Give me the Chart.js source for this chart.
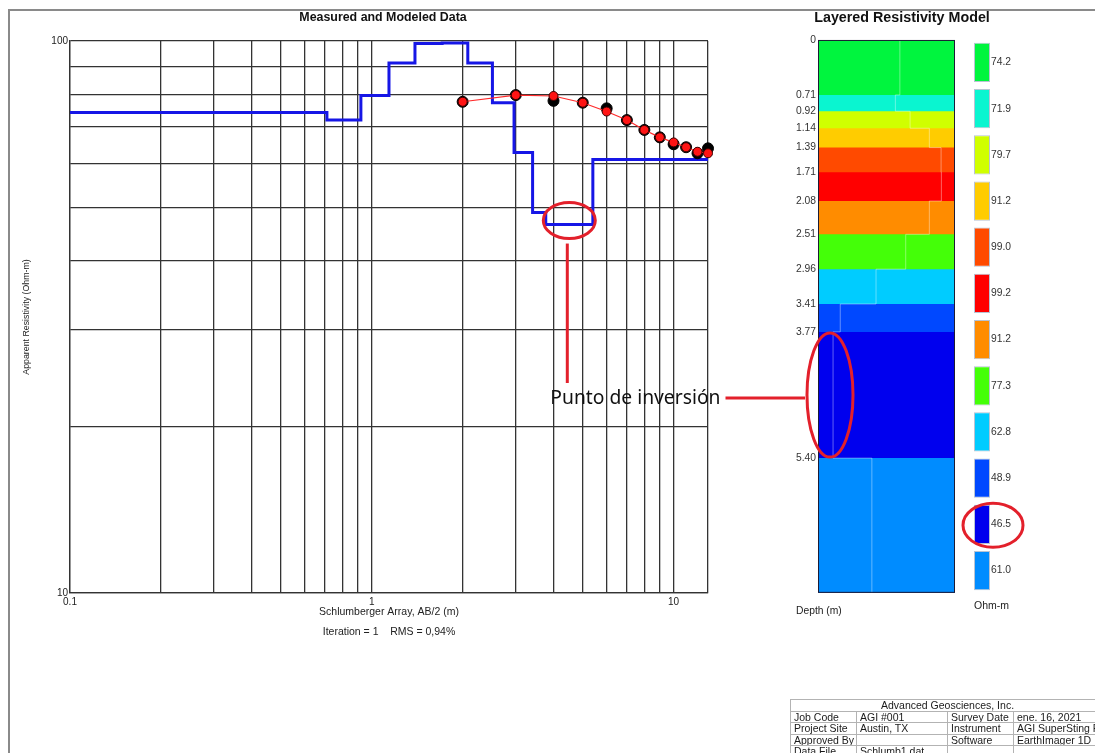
<!DOCTYPE html>
<html lang="es">
<head>
<meta charset="UTF-8">
<title>Sondeo eléctrico vertical - Schlumberger</title>
<script src="https://cdn.jsdelivr.net/npm/chart.js@4.4.1/dist/chart.umd.min.js"></script>
<style>
    html, body { margin: 0; padding: 0; background: #fff; }
    body {
        position: relative;
        width: 1095px;
        height: 753px;
        overflow: hidden;
        font-family: "Liberation Sans", Arial, sans-serif;
    }
    .frame {
        position: absolute;
        left: 8px;
        top: 9px;
        width: 1200px;
        height: 800px;
        border-top: 2px solid #8a8a8a;
        border-left: 2px solid #8a8a8a;
    }
    canvas { position: absolute; top: 0; }
    #curveChart { left: 0; }
    #depthChart { left: 796px; }
    #legendChart { left: 960px; }
    #callout { position: absolute; left: 0; top: 0; pointer-events: none; }
    .info {
        position: absolute;
        left: 790px;
        top: 699px;
        width: 314px;
        border-collapse: collapse;
        table-layout: fixed;
        font-size: 10.5px;
        color: #1a1a1a;
    }
    .info td {
        border: 1px solid #b3b3b3;
        padding: 0 3px;
        height: 10.5px;
        line-height: 10.5px;
        white-space: nowrap;
        overflow: hidden;
    }
    .info td.head { text-align: center; }
</style>
</head>
<body>
<div class="frame"></div>
<canvas id="curveChart" width="780" height="650"></canvas>
<canvas id="depthChart" width="228" height="640"></canvas>
<canvas id="legendChart" width="100" height="640"></canvas>
<svg id="callout" width="1095" height="753"></svg>

<table class="info">
    <colgroup><col style="width:66px"><col style="width:91px"><col style="width:66px"><col style="width:91px"></colgroup>
    <tr><td class="head" colspan="4">Advanced Geosciences, Inc.</td></tr>
    <tr><td>Job Code</td><td>AGI #001</td><td>Survey Date</td><td>ene. 16, 2021</td></tr>
    <tr><td>Project Site</td><td>Austin, TX</td><td>Instrument</td><td>AGI SuperSting R8</td></tr>
    <tr><td>Approved By</td><td></td><td>Software</td><td>EarthImager 1D</td></tr>
    <tr><td>Data File</td><td>Schlumb1.dat</td><td></td><td></td></tr>
</table>

<script>
// --- datos de campo (AB/2 en m, resistividad aparente en Ohm-m)
const abSpacing   = [2, 3, 4, 5, 6, 7, 8, 9, 10, 11, 12, 13];
const measuredRho = [77.6, 79.8, 77.9, 77.3, 75.5, 71.9, 69.0, 66.9, 65.0, 64.2, 62.6, 63.9];
const modeledRho  = [77.6, 79.8, 79.5, 77.3, 74.5, 71.9, 69.0, 66.9, 65.5, 64.2, 63.0, 62.6];

// --- modelo de capas (profundidad del techo en m, resistividad en Ohm-m)
const layerTops   = [0, 0.71, 0.92, 1.14, 1.39, 1.71, 2.08, 2.51, 2.96, 3.41, 3.77, 5.40];
const layerRho    = [74.2, 71.9, 79.7, 91.2, 99.0, 99.2, 91.2, 77.3, 62.8, 48.9, 46.5, 61.0];
const layerColors = ['#00f53e', '#0af5d0', '#d0ff00', '#ffcc00', '#ff4a00', '#ff0000',
                     '#ff8c00', '#44ff08', '#00ccff', '#0048ff', '#0000ee', '#008cff'];
const depthLabels = ['0', '0.71', '0.92', '1.14', '1.39', '1.71', '2.08', '2.51', '2.96', '3.41', '3.77', '5.40'];
const rhoLabels   = ['74.2', '71.9', '79.7', '91.2', '99.0', '99.2', '91.2', '77.3', '62.8', '48.9', '46.5', '61.0'];

// --- rejilla y etiquetas de ejes
const xGridValues  = [0.1, 0.2, 0.3, 0.4, 0.5, 0.6, 0.7, 0.8, 0.9, 1, 2, 3, 4, 5, 6, 7, 8, 9, 10, 13];
const xLabelValues = [0.1, 1, 10];
const yGridValues  = [10, 20, 30, 40, 50, 60, 70, 80, 90, 100];
const yLabelValues = [10, 100];

const xMin = 0.1, xMax = 13;
const maxDepth = 7.14;
const rhoMin = 41.85, rhoMax = 109.12;
const highlightLayer = 10;   // capa de 46.5 Ohm-m

Chart.defaults.font.family = '"Liberation Sans", Arial, Helvetica, sans-serif';
Chart.defaults.font.size = 10.3;
Chart.defaults.color = '#222';
Chart.defaults.animation = false;
Chart.defaults.events = [];
Chart.defaults.plugins.legend.display = false;
Chart.defaults.plugins.tooltip.enabled = false;

const gridColor = '#333';

function spacerAxis(width) {
    return {
        type: 'linear', position: 'right', display: true,
        grid: { display: false, drawTicks: false }, border: { display: false }, ticks: { display: false },
        afterFit: s => { s.width = width; }
    };
}

// modelo en escalera sobre el sondeo
const modelCurve = layerTops.map((d, i) => ({ x: i === 0 ? xMin : d, y: layerRho[i] }));
modelCurve.push({ x: xMax, y: layerRho[layerRho.length - 1] });

const curveChart = new Chart(document.getElementById('curveChart'), {
    type: 'line',
    data: {
        datasets: [
            {
                label: 'Modeled',
                data: abSpacing.map((x, i) => ({ x, y: modeledRho[i] })),
                borderColor: '#ff2a2a',
                borderWidth: 1.2,
                pointRadius: 4.5,
                pointBackgroundColor: '#ff1414',
                pointBorderColor: '#3a0000',
                pointBorderWidth: 1,
                clip: false,
                order: 1
            },
            {
                label: 'Measured',
                data: abSpacing.map((x, i) => ({ x, y: measuredRho[i] })),
                showLine: false,
                pointRadius: 5.5,
                pointBackgroundColor: '#000',
                pointBorderColor: '#000',
                clip: false,
                order: 2
            },
            {
                label: 'Model',
                data: modelCurve,
                stepped: true,
                borderColor: '#1616e6',
                borderWidth: 3,
                pointRadius: 0,
                fill: false,
                order: 3
            }
        ]
    },
    options: {
        responsive: false,
        layout: { padding: { left: 0, right: 14, top: 0, bottom: 0 } },
        plugins: {
            title: {
                display: true,
                text: 'Measured and Modeled Data',
                color: '#111',
                font: { size: 12.4, weight: 'bold', lineHeight: 1.2 },
                padding: { top: 10.1, bottom: 16 }
            }
        },
        scales: {
            x: {
                type: 'logarithmic',
                min: xMin,
                max: xMax,
                afterBuildTicks: s => { s.ticks = xGridValues.map(value => ({ value })); },
                afterFit: s => { s.height = 57; },
                ticks: {
                    autoSkip: false, maxRotation: 0, padding: 3, font: { size: 10 },
                    callback: v => xLabelValues.includes(v) ? String(v) : ''
                },
                grid: { color: gridColor, lineWidth: 1.3, drawTicks: false },
                border: { color: gridColor, width: 1.3 },
                title: {
                    display: true,
                    text: ['Schlumberger Array, AB/2 (m)', 'Iteration = 1    RMS = 0,94%'],
                    font: { size: 10.5, lineHeight: '20px' },
                    padding: { top: 0, bottom: 8 }
                }
            },
            y: {
                type: 'logarithmic',
                min: 10,
                max: 100,
                afterBuildTicks: s => { s.ticks = yGridValues.map(value => ({ value })); },
                afterFit: s => { s.width = 70; },
                ticks: {
                    autoSkip: false, padding: 2, font: { size: 10 },
                    callback: v => yLabelValues.includes(v) ? String(v) : ''
                },
                grid: { color: gridColor, lineWidth: 1.3, drawTicks: false },
                border: { color: gridColor, width: 1.3 },
                title: {
                    display: true,
                    text: 'Apparent Resistivity (Ohm-m)',
                    font: { size: 8.8, lineHeight: 1.2 },
                    padding: { top: 21.7, bottom: 0 }
                }
            },
            pad: spacerAxis(58)
        }
    }
});

// --- columna de capas
const framePlugin = {
    id: 'frame',
    afterDraw(chart, args, opts) {
        const { ctx, chartArea: a } = chart;
        ctx.save();
        ctx.strokeStyle = opts.color || '#222';
        ctx.lineWidth = 1;
        ctx.strokeRect(a.left + 0.5, a.top + 0.5, a.width - 1, a.height - 1);
        ctx.restore();
    }
};

const layerFills = layerTops.map((top, i) => ({
    label: rhoLabels[i],
    data: [{ x: rhoMin, y: top }, { x: rhoMax, y: top }],
    fill: { value: maxDepth },
    backgroundColor: layerColors[i],
    borderColor: 'transparent',
    borderWidth: 0,
    pointRadius: 0,
    order: 100 - i
}));

const rhoProfile = layerTops.map((top, i) => ({ x: layerRho[i], y: top }));
rhoProfile.push({ x: layerRho[layerRho.length - 1], y: maxDepth });

const depthChart = new Chart(document.getElementById('depthChart'), {
    type: 'line',
    data: {
        datasets: [
            {
                label: 'profile',
                data: rhoProfile,
                stepped: 'after',
                borderColor: 'rgba(255,255,255,0.38)',
                borderWidth: 1,
                pointRadius: 0,
                fill: false,
                order: 0
            },
            ...layerFills
        ]
    },
    options: {
        responsive: false,
        layout: { padding: { left: 0, right: 16, top: 0, bottom: 0 } },
        plugins: {
            title: {
                display: true,
                text: 'Layered Resistivity Model',
                color: '#111',
                font: { size: 14.3, weight: 'bold', lineHeight: 1.2 },
                padding: { top: 9.4, bottom: 13.4 }
            },
            subtitle: {
                display: true,
                position: 'bottom',
                align: 'start',
                text: 'Depth (m)',
                color: '#222',
                font: { size: 10.3, lineHeight: 1.2 },
                padding: { top: 11.8, bottom: 23 }
            },
            frame: { color: '#1c1c36' }
        },
        scales: {
            x: { type: 'logarithmic', min: rhoMin, max: rhoMax, display: false },
            y: {
                type: 'linear',
                reverse: true,
                min: 0,
                max: maxDepth,
                afterBuildTicks: s => { s.ticks = layerTops.map(value => ({ value })); },
                afterFit: s => { s.width = 22; },
                ticks: { autoSkip: false, padding: 2, color: '#333', callback: (v, i) => depthLabels[i] },
                grid: { display: false, drawTicks: false },
                border: { display: false }
            },
            pad: spacerAxis(53)
        }
    },
    plugins: [framePlugin]
});

// --- leyenda de colores
const legendChart = new Chart(document.getElementById('legendChart'), {
    type: 'bar',
    data: {
        labels: rhoLabels,
        datasets: [{
            data: rhoLabels.map(() => 1),
            backgroundColor: layerColors,
            borderColor: 'rgba(125,145,175,0.55)',
            borderWidth: 1,
            borderSkipped: false,
            barPercentage: 1,
            categoryPercentage: 0.85
        }]
    },
    options: {
        responsive: false,
        indexAxis: 'y',
        layout: { padding: { left: 14, right: 30, top: 39.4, bottom: 0 } },
        plugins: {
            subtitle: {
                display: true,
                position: 'bottom',
                align: 'start',
                text: 'Ohm-m',
                color: '#222',
                font: { size: 10.5, lineHeight: 1.2 },
                padding: { top: 6.4, bottom: 27.4 }
            }
        },
        scales: {
            x: { min: 0, max: 1, display: false },
            y: {
                position: 'right',
                grid: { display: false, drawTicks: false },
                border: { display: false },
                ticks: { padding: 1, color: '#333' },
                afterFit: s => { s.width = 40; }
            }
        }
    }
});

// --- señalamiento "Punto de inversión"
function drawCallout() {
    const svg = document.getElementById('callout');
    const NS = 'http://www.w3.org/2000/svg';
    const red = '#e3202b';
    const k = highlightLayer;

    function add(tag, attrs) {
        const el = document.createElementNS(NS, tag);
        for (const key in attrs) el.setAttribute(key, attrs[key]);
        svg.appendChild(el);
        return el;
    }
    function ellipse(e) {
        add('ellipse', { cx: e.cx, cy: e.cy, rx: e.rx, ry: e.ry, fill: 'none', stroke: red, 'stroke-width': 3 });
    }

    const xs = curveChart.scales.x, ys = curveChart.scales.y;
    const e1 = {
        cx: curveChart.canvas.offsetLeft + xs.getPixelForValue(Math.sqrt(layerTops[k] * layerTops[k + 1])),
        cy: ys.getPixelForValue(layerRho[k]) - 4, rx: 26, ry: 18
    };
    const dy = depthChart.scales.y;
    const topPx = dy.getPixelForValue(layerTops[k]), botPx = dy.getPixelForValue(layerTops[k + 1]);
    const e2 = {
        cx: depthChart.canvas.offsetLeft + depthChart.chartArea.left + 12,
        cy: (topPx + botPx) / 2, rx: 23, ry: (botPx - topPx) / 2 - 1
    };
    const bar = legendChart.getDatasetMeta(0).data[k];
    const e3 = { cx: legendChart.canvas.offsetLeft + bar.x + 3, cy: bar.y + 1, rx: 30, ry: 22 };

    ellipse(e1); ellipse(e2); ellipse(e3);

    const baseline = e2.cy + 9;
    const textX = e1.cx - 19;
    const label = add('text', { x: textX, y: baseline, fill: '#111', 'font-family': 'Noto Sans, Open Sans, sans-serif', 'font-size': 19.3 });
    label.textContent = 'Punto de inversión';
    const textEnd = textX + label.getComputedTextLength();

    add('line', { x1: e1.cx - 2, y1: e1.cy + e1.ry + 5, x2: e1.cx - 2, y2: baseline - 21, stroke: red, 'stroke-width': 3 });
    add('line', { x1: textEnd + 5, y1: baseline - 6, x2: e2.cx - e2.rx - 2, y2: baseline - 6, stroke: red, 'stroke-width': 3 });
}

drawCallout();
</script>
</body>
</html>
